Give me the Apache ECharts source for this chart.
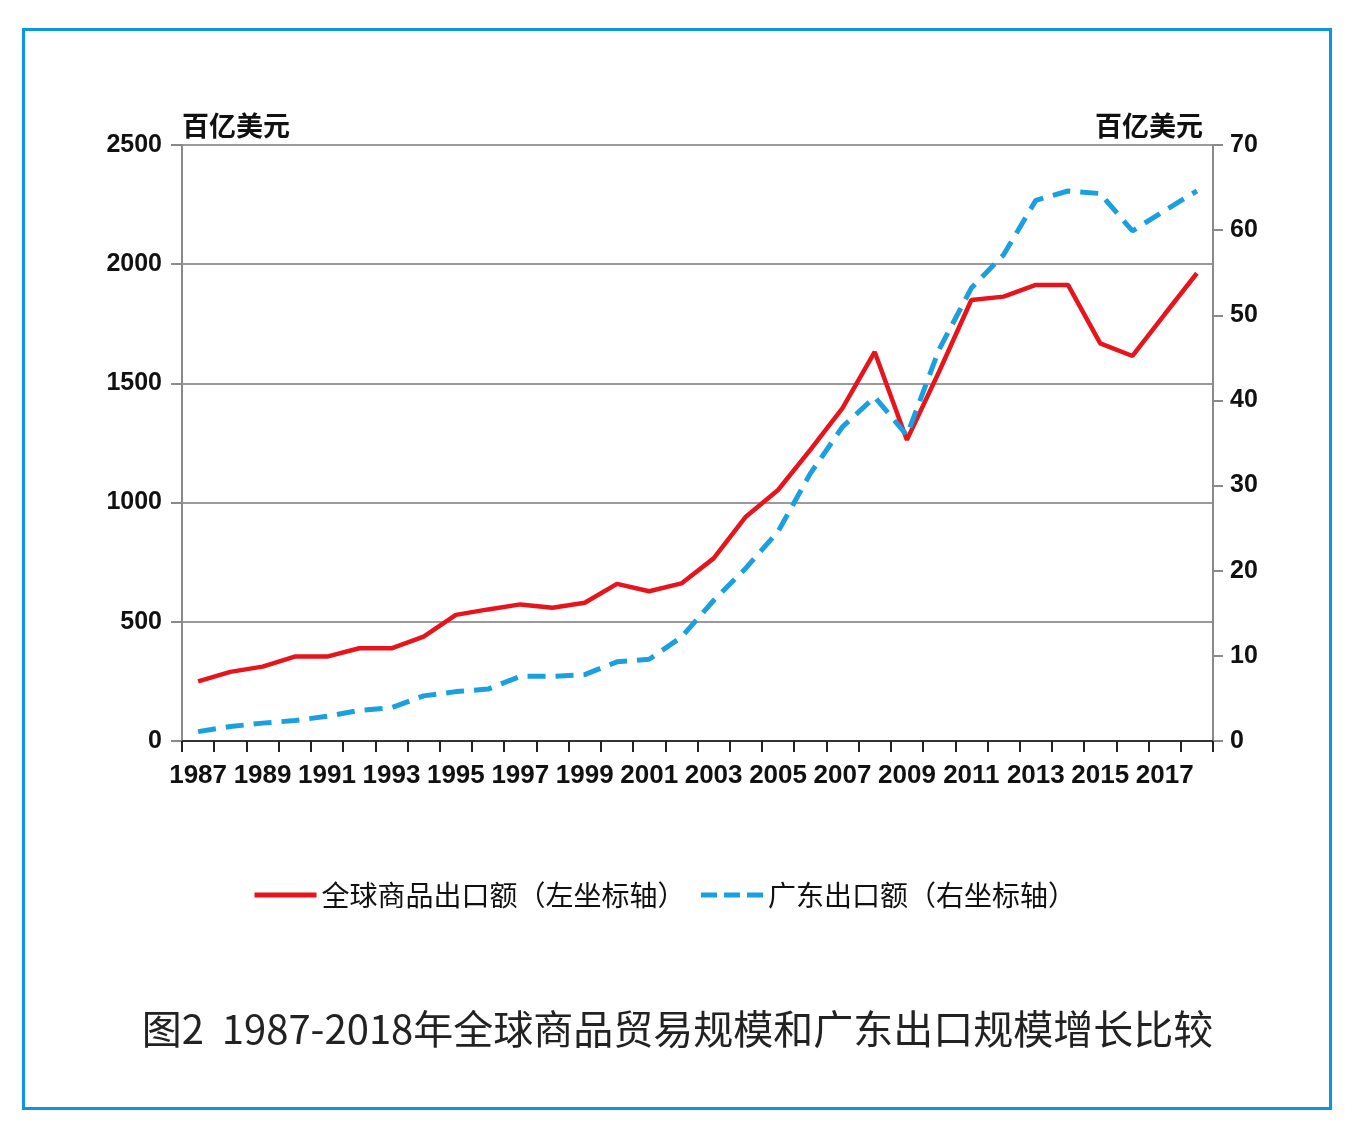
<!DOCTYPE html>
<html>
<head>
<meta charset="utf-8">
<script src="https://cdn.jsdelivr.net/npm/echarts@6/dist/echarts.min.js"></script>
<style>
html,body{margin:0;padding:0;background:#fff;}
#chart{width:1355px;height:1132px;}
</style>
</head>
<body>
<div id="chart"></div>
<script>
const years = ['1987','1988','1989','1990','1991','1992','1993','1994','1995','1996','1997','1998','1999','2000','2001','2002','2003','2004','2005','2006','2007','2008','2009','2010','2011','2012','2013','2014','2015','2016','2017','2018'];
const worldExports = [250,290,312,354,354,389,389,438,529,552,573,559,580,659,628,661,766,941,1053,1221,1396,1632,1263,1550,1850,1864,1913,1913,1668,1615,1790,1962];
const guangdongExports = [1.1,1.7,2.1,2.4,2.9,3.6,3.9,5.3,5.8,6.1,7.6,7.6,7.8,9.3,9.6,12.2,16.5,20.3,24.6,31.4,36.9,40.4,35.9,46.0,53.2,57.1,63.5,64.6,64.3,59.9,62.3,64.6];
const leftTicks = {min:0,max:2500,interval:500};
const rightTicks = {min:0,max:70,interval:10};
const seriesNames = ['全球商品出口额（左坐标轴）','广东出口额（右坐标轴）'];
const unitName = '百亿美元';
const titleText = '图2  1987-2018年全球商品贸易规模和广东出口规模增长比较';

const chart = echarts.init(document.getElementById('chart'), null, {renderer:'canvas'});
const numFont = {fontFamily:'Liberation Sans, Arial, sans-serif', fontWeight:'bold', fontSize:25, color:'#111'};
const cjk = 'Noto Sans CJK SC, sans-serif';
const plain = v => String(v);
chart.setOption({
  backgroundColor:'#fff',
  animation:false,
  title:{
    text:titleText, left:'center', top:1004,
    textStyle:{fontFamily:cjk, fontSize:40, fontWeight:'normal', color:'#222'}
  },
  graphic:[{type:'rect', shape:{x:23.5,y:29.5,width:1307,height:1079}, style:{fill:'none', stroke:'#0b96e0', lineWidth:3}}],
  legend:{
    left:247, top:876, itemWidth:62, itemHeight:14, itemGap:13,
    itemStyle:{opacity:0},
    textStyle:{fontFamily:cjk, fontSize:28, color:'#111'},
    data:[
      {name:seriesNames[0], lineStyle:{width:5}},
      {name:seriesNames[1], lineStyle:{width:5, type:[16,7]}}
    ]
  },
  grid:{left:182, right:142, top:145, bottom:391, containLabel:false},
  xAxis:{
    type:'category', data:years, boundaryGap:true,
    axisLine:{lineStyle:{color:'#333', width:2}},
    axisTick:{show:true, interval:0, length:11, lineStyle:{color:'#222', width:2}},
    axisLabel:Object.assign({interval:1, margin:22}, numFont, {fontSize:26}),
    splitLine:{show:false}
  },
  yAxis:[{
    type:'value', min:leftTicks.min, max:leftTicks.max, interval:leftTicks.interval, position:'left',
    name:unitName, nameLocation:'end', nameGap:6,
    nameTextStyle:{fontFamily:cjk, fontSize:27, fontWeight:'bold', color:'#111', align:'left', verticalAlign:'bottom'},
    axisLine:{show:true, lineStyle:{color:'#8a8a8a', width:2}},
    axisTick:{show:true, length:11, lineStyle:{color:'#8a8a8a', width:2}},
    axisLabel:Object.assign({margin:20, formatter:plain}, numFont),
    splitLine:{show:true, lineStyle:{color:'#9a9a9a', width:2}}
  },{
    type:'value', min:rightTicks.min, max:rightTicks.max, interval:rightTicks.interval, position:'right',
    name:unitName, nameLocation:'end', nameGap:6,
    nameTextStyle:{fontFamily:cjk, fontSize:27, fontWeight:'bold', color:'#111', align:'right', verticalAlign:'bottom', padding:[0,10,0,0]},
    axisLine:{show:true, lineStyle:{color:'#8a8a8a', width:2}},
    axisTick:{show:true, length:10, lineStyle:{color:'#8a8a8a', width:2}},
    axisLabel:Object.assign({margin:17, formatter:plain}, numFont),
    splitLine:{show:false}
  }],
  series:[{
    name:seriesNames[0], type:'line', yAxisIndex:0, data:worldExports,
    symbol:'none', color:'#e8141c',
    lineStyle:{color:'#e8141c', width:4.5}
  },{
    name:seriesNames[1], type:'line', yAxisIndex:1, data:guangdongExports,
    symbol:'none', color:'#1aa0e0',
    lineStyle:{color:'#1aa0e0', width:5, type:[18,10]}
  }]
});
</script>
</body>
</html>
